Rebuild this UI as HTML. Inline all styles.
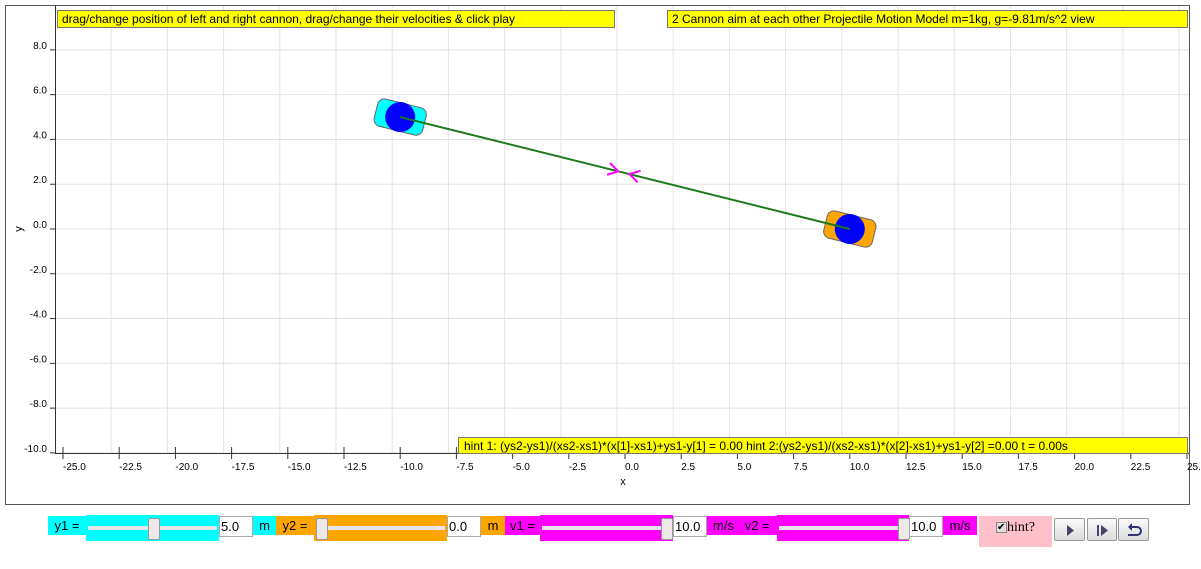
<!DOCTYPE html>
<html><head><meta charset="utf-8"><style>
body{margin:0;width:1201px;height:569px;background:#fff;overflow:hidden;font-family:"Liberation Sans",sans-serif;position:relative}
.a{position:absolute;box-sizing:border-box}
.lbl{font-size:13px;line-height:19px;text-align:center}
.box{background:#fff;border:1px solid #aaa;font-size:13px;line-height:19px;padding-left:1px}
.track{position:absolute;left:2px;right:2px;top:11px;height:4px;background:#e6e6e6}
.thumb{position:absolute;top:3px;width:10px;height:20px;background:#ece9e6;border:1px solid #999;border-radius:2px}
.btn{background:linear-gradient(#fafafa,#dcdcdc);border:1px solid #999;border-radius:2px}
</style></head><body>
<svg class="a" style="left:0;top:0" width="1201" height="569" id="svg">
<rect x="5.5" y="5.5" width="1184" height="499" fill="#fff" stroke="#555"/>
<g id="grid"></g><g id="axes"></g><g id="marks"></g>
<rect x="57.5" y="10.5" width="557" height="17" fill="#ff0" stroke="#777"/>
<text x="62" y="23" font-size="12" font-family="Liberation Sans">drag/change position of left and right cannon, drag/change their velocities &amp; click play</text>
<rect x="667.5" y="10.5" width="520" height="17" fill="#ff0" stroke="#777"/>
<text x="672" y="23" font-size="12" font-family="Liberation Sans">2 Cannon aim at each other Projectile Motion Model m=1kg, g=-9.81m/s^2 view</text>
<rect x="458.5" y="437.5" width="729" height="16" fill="#ff0" stroke="#777"/>
<text x="464" y="450" font-size="12" font-family="Liberation Sans">hint 1: (ys2-ys1)/(xs2-xs1)*(x[1]-xs1)+ys1-y[1] = 0.00 hint 2:(ys2-ys1)/(xs2-xs1)*(x[2]-xs1)+ys1-y[2] =0.00 t = 0.00s</text>
<text x="623" y="485" font-size="11" font-family="Liberation Sans" text-anchor="middle">x</text>
<text x="22" y="229" font-size="11" font-family="Liberation Sans" text-anchor="middle" transform="rotate(-90 22 229)">y</text>
</svg>

<div class="a lbl" style="left:48px;top:516px;width:38px;height:19px;background:#0ff">y1 =</div>
<div class="a" style="left:86px;top:515px;width:133px;height:26px;background:#0ff"><div class="track"></div><div class="thumb" style="left:62px"></div></div>
<div class="a box" style="left:219px;top:516px;width:34px;height:21px">5.0</div>
<div class="a lbl" style="left:253px;top:516px;width:23px;height:19px;background:#0ff">m</div>
<div class="a lbl" style="left:276px;top:516px;width:38px;height:19px;background:#ffa500">y2 =</div>
<div class="a" style="left:314px;top:515px;width:133px;height:26px;background:#ffa500"><div class="track"></div><div class="thumb" style="left:2px"></div></div>
<div class="a box" style="left:447px;top:516px;width:34px;height:21px">0.0</div>
<div class="a lbl" style="left:481px;top:516px;width:24px;height:19px;background:#ffa500">m</div>
<div class="a lbl" style="left:505px;top:516px;width:35px;height:19px;background:#f0f">v1 =</div>
<div class="a" style="left:540px;top:515px;width:133px;height:26px;background:#f0f"><div class="track"></div><div class="thumb" style="left:121px"></div></div>
<div class="a box" style="left:673px;top:516px;width:34px;height:21px">10.0</div>
<div class="a lbl" style="left:707px;top:516px;width:70px;height:19px;background:#f0f;text-align:left;padding-left:6px">m/s &nbsp; v2 =</div>
<div class="a" style="left:777px;top:515px;width:132px;height:26px;background:#f0f"><div class="track"></div><div class="thumb" style="left:121px"></div></div>
<div class="a box" style="left:909px;top:516px;width:34px;height:21px">10.0</div>
<div class="a lbl" style="left:943px;top:516px;width:34px;height:19px;background:#f0f">m/s</div>
<div class="a" style="left:979px;top:516px;width:73px;height:31px;background:#ffc0cb;font-family:'Liberation Serif',serif;font-size:14px;padding:4px 0 0 17px"><span style="display:inline-block;width:9px;height:9px;border:1px solid #888;background:#ddd;font-size:10px;line-height:9px;vertical-align:1px">✔</span>hint?</div>
<div class="a btn" style="left:1054px;top:518px;width:31px;height:23px"><svg width="31" height="23"><path d="M12 6 L19 11.5 L12 17Z" fill="#446"/></svg></div>
<div class="a btn" style="left:1087px;top:518px;width:30px;height:23px"><svg width="30" height="23"><rect x="9" y="6" width="2" height="11" fill="#446"/><path d="M13 6 L20 11.5 L13 17Z" fill="#446"/></svg></div>
<div class="a btn" style="left:1118px;top:518px;width:31px;height:23px"><svg width="31" height="23"><path d="M10 8 H18 A4 4 0 0 1 18 16 H9" fill="none" stroke="#337" stroke-width="2"/><path d="M13 4 L9 8 L13 12Z" fill="#337"/></svg></div>

<script>
const xTicks=[-25,-22.5,-20,-17.5,-15,-12.5,-10,-7.5,-5,-2.5,0,2.5,5,7.5,10,12.5,15,17.5,20,22.5,25];
const yTicks=[-10,-8,-6,-4,-2,0,2,4,6,8];
const cannonX=[-10,10];
const cannonY=[5,0];
const cannonColors=['#0ff','#ffa500'];
const arrowTipX=[-0.3,0.2];
const sx=v=>625+v*22.48, sy=v=>229-v*22.39;
const NS='http://www.w3.org/2000/svg';
function mk(t,a,p){const e=document.createElementNS(NS,t);for(const k in a)e.setAttribute(k,a[k]);p.appendChild(e);return e;}
const grid=document.getElementById('grid'),axes=document.getElementById('axes'),marks=document.getElementById('marks');
xTicks.forEach((v,i)=>{
  const x=sx(v);
  if(i>0){const g=mk('line',{x1:x-8,x2:x-8,y1:6,y2:453,stroke:'#e3e3e3'},grid);
  
  }
  const t=mk('line',{x1:x,x2:x,y1:447,y2:459,stroke:'#333'},axes);
  
  
  const l=mk('text',{x:x,y:470,'font-size':10,'font-family':'Liberation Sans'},axes);l.textContent=v.toFixed(1);
  
  
});
yTicks.forEach(v=>{
  const y=sy(v);
  const g=mk('line',{x1:55,x2:1189,y1:y,y2:y,stroke:'#e3e3e3'},grid);
  
  
  const t=mk('line',{x1:50,x2:55,y1:y,y2:y,stroke:'#333'},axes);
  
  
  const l=mk('text',{x:47,y:y-1,'font-size':10,'font-family':'Liberation Sans','text-anchor':'end'},axes);l.textContent=v.toFixed(1);
  
  
});
const ax=mk('path',{d:'M55.5 5 V453.5 H1189',fill:'none',stroke:'#333'},axes);


const x1=sx(cannonX[0]),y1=sy(cannonY[0]),x2=sx(cannonX[1]),y2=sy(cannonY[1]);
const ang=Math.atan2(y2-y1,x2-x1)*180/Math.PI;
cannonX.forEach((v,i)=>{
  const cx=sx(v),cy=sy(cannonY[i]);
  const g=mk('g',{transform:`translate(${cx},${cy}) rotate(${ang})`},marks);
  
  
  mk('rect',{x:-25,y:-14,width:50,height:28,rx:7,fill:cannonColors[i],stroke:'#666'},g);
  mk('circle',{cx:0,cy:0,r:15,fill:'#00f'},g);
});
const ln=mk('line',{x1:x1,y1:y1,x2:x2,y2:y2,stroke:'#1a7a1a','stroke-width':2},marks);


arrowTipX.forEach((v,i)=>{
  const cx=sx(v), cy=y1+(cx-x1)*(y2-y1)/(x2-x1);
  const d=i===0?1:-1;
  const a=mk('path',{d:`M${-10*d} -6 L0 0 L${-10*d} 6`,fill:'none',stroke:'#f0f','stroke-width':2,transform:`translate(${cx},${cy}) rotate(${ang})`},marks);
  
  
});
</script>
</body></html>
